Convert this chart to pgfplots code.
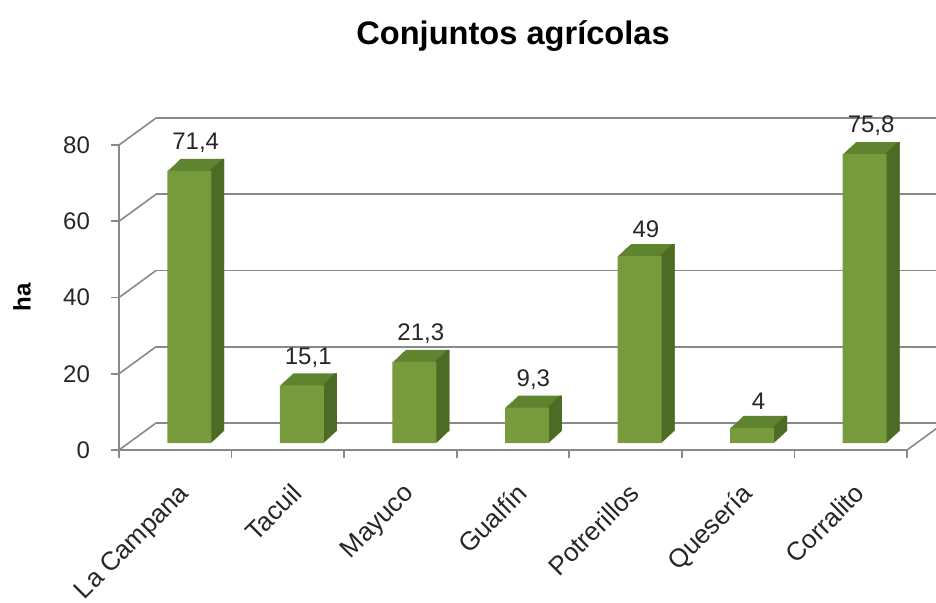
\documentclass[border=0pt]{standalone}
\usepackage{pgfplots}
\pgfplotsset{compat=1.18}
\usepackage{pgfplotstable}
\usepackage{fontspec}
\setmainfont{Liberation Sans}
\definecolor{gridc}{HTML}{898989}
\definecolor{frontc}{HTML}{779A3C}
\definecolor{topc}{HTML}{5F8430}
\definecolor{sidec}{HTML}{4D6B24}
\pgfplotsset{/pgf/number format/assume math mode=true}
\pgfplotstableread{
x v
0 71.4
1 15.1
2 21.3
3 9.3
4 49
5 4
6 75.8
}\areas
\begin{document}
\begin{tikzpicture}
\path[use as bounding box] (0pt,0pt) rectangle (468pt,301pt);
% back wall
\begin{axis}[at={(78pt,89.5pt)}, anchor=south west, scale only axis,
  width=394pt, height=152.5pt, xmin=-0.5, xmax=6.5, ymin=0, ymax=80,
  xtick=\empty, ytick={0,20,...,80}, yticklabels={}, major tick length=0pt,
  axis line style={draw=none}, ymajorgrids,
  grid style={gridc, line width=0.8pt}]
\end{axis}
% bars
\begin{axis}[at={(66.5pt,79.5pt)}, anchor=south west, scale only axis,
  width=394pt, height=152.5pt, xmin=-0.5, xmax=6.5, ymin=0, ymax=80,
  hide axis, clip=false, ybar, bar width=22pt]
\pgfplotsinvokeforeach{12,11,...,1}{
  \addplot[fill=topc, draw=none, bar shift={0.54pt*#1}, yshift={0.5pt*#1}] table[x=x,y=v]{\areas};
}
\pgfplotsinvokeforeach{12,11,...,1}{
  \addplot[fill=sidec, draw=none, bar width=1.2pt, bar shift={10.4pt+0.54pt*#1}, yshift={0.5pt*#1}] table[x=x,y=v]{\areas};
}
\addplot[fill=frontc, draw=none, bar shift=0pt, nodes near coords,
  nodes near coords style={font=\fontsize{12}{14}\selectfont, text=black!85, xshift=3.2pt, yshift=5.5pt},
  /pgf/number format/use comma] table[x=x,y=v]{\areas};
\end{axis}
% front axis
\begin{axis}[at={(59.5pt,76pt)}, anchor=south west, scale only axis,
  width=394pt, height=152.5pt, xmin=-0.5, xmax=6.5, ymin=0, ymax=80,
  axis x line*=bottom, axis y line*=left,
  axis line style={gridc, line width=0.8pt},
  tick style={gridc, line width=0.8pt}, tick align=outside, major tick length=4pt,
  xtick={-0.5,0.5,...,6.5}, x tick label as interval,
  xticklabels={La Campana,Tacuil,Mayuco,Gualfín,Potrerillos,Quesería,Corralito},
  xticklabel style={font=\fontsize{13}{15}\selectfont, text=black!85, xshift=1pt, yshift=-7pt, rotate=45, anchor=north east},
  ytick={0,20,...,80},
  yticklabel style={font=\fontsize{12}{14}\selectfont, text=black!85, xshift=-7pt},
  title={Conjuntos agrícolas},
  title style={at={(axis description cs:0.5,1.367)}, anchor=center, yshift=-7.5pt, font=\bfseries\fontsize{16.3}{19}\selectfont},
  ylabel={ha},
  ylabel style={at={(axis description cs:-0.123,0.5)}, anchor=center, font=\bfseries\fontsize{12}{14}\selectfont},
  clip=false]
\pgfplotsinvokeforeach{0,20,40,60,80}{
  \draw[gridc, line width=0.8pt] (axis cs:-0.5,#1) -- ++(18.5pt,13.5pt);
}
\draw[gridc, line width=0.8pt] (axis cs:6.5,0) -- ++(18.5pt,13.5pt);
\end{axis}
\end{tikzpicture}
\end{document}
